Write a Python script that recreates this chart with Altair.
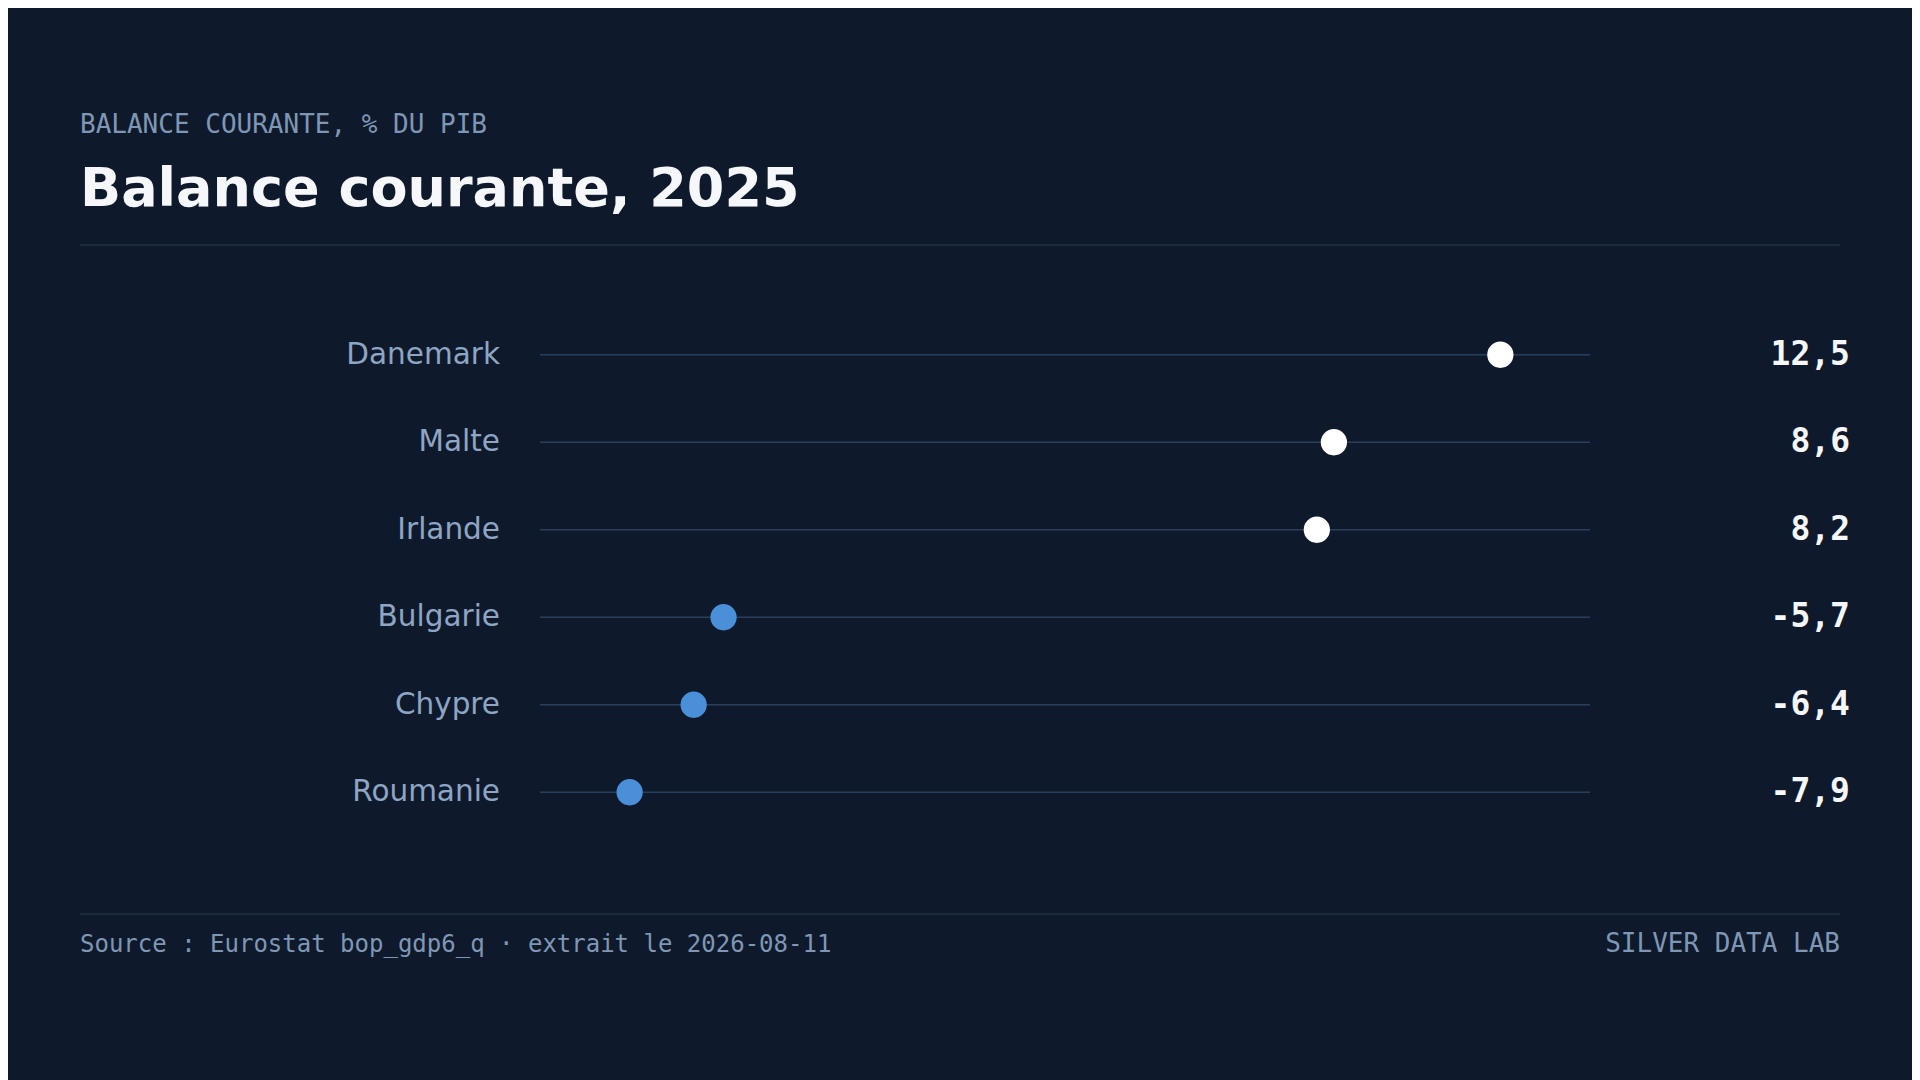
import altair as alt
import pandas as pd

countries = ["Danemark", "Malte", "Irlande", "Bulgarie", "Chypre", "Roumanie"]
values = [12.5, 8.6, 8.2, -5.7, -6.4, -7.9]

kicker = "BALANCE COURANTE, % DU PIB"
title_text = "Balance courante, 2025"
source_text = "Source : Eurostat bop_gdp6_q · extrait le 2026-08-11"
brand_text = "SILVER DATA LAB"

BG = "#0e1a2b"
W, H = 1050, 525

df = pd.DataFrame({"country": countries, "value": values})
one = pd.DataFrame({"k": [0]})

yscale = alt.Scale(type="point", padding=0.5, domain=countries)
xscale = alt.Scale(domain=[-10, 14.6], nice=False, zero=False)

base = alt.Chart(df)

rules = base.mark_rule(color="#283f5c", strokeWidth=1.6).encode(
    x=alt.value(0), x2=alt.value(W),
    y=alt.Y("country:N", scale=yscale, axis=None),
)

dots = base.mark_circle(size=690, opacity=1).encode(
    x=alt.X("value:Q", scale=xscale, axis=None),
    y=alt.Y("country:N", scale=yscale, axis=None),
    color=alt.condition("datum.value > 0", alt.value("#ffffff"), alt.value("#4a90d9")),
)

labels = base.mark_text(
    align="right", baseline="middle", font="DejaVu Sans", fontSize=29.5, color="#8ea5c4"
).encode(
    x=alt.value(-40),
    y=alt.Y("country:N", scale=yscale, axis=None),
    text="country:N",
)

vals = base.transform_calculate(
    label="replace(toString(datum.value), '.', ',')"
).mark_text(
    align="right", baseline="middle", font="DejaVu Sans Mono", fontSize=33,
    fontWeight="bold", color="#f5f7fa",
).encode(
    x=alt.value(1310),
    y=alt.Y("country:N", scale=yscale, axis=None),
    text="label:N",
)

def txt(s, x, y, **kw):
    d = pd.DataFrame({"t": [s]})
    return alt.Chart(d).mark_text(baseline="alphabetic", **kw).encode(
        x=alt.value(x), y=alt.value(y), text="t:N"
    )

kick = txt(kicker, -460, -178, align="left", font="DejaVu Sans Mono", fontSize=26,
           color="#7f97b5")
ttl = txt(title_text, -460, -105, align="left", font="DejaVu Sans", fontSize=54,
          fontWeight="bold", color="#f5f7fa")
src = txt(source_text, -460, 641, align="left", font="DejaVu Sans Mono", fontSize=24,
          color="#7f97b5")
brand = txt(brand_text, 1300, 641, align="right", font="DejaVu Sans Mono", fontSize=26,
            color="#7f97b5")

sep_top = alt.Chart(one).mark_rule(color="#1a2a3e", strokeWidth=2).encode(
    x=alt.value(-460), x2=alt.value(1300), y=alt.value(-66)
)
sep_bot = alt.Chart(one).mark_rule(color="#1a2a3e", strokeWidth=2).encode(
    x=alt.value(-460), x2=alt.value(1300), y=alt.value(603)
)

chart = alt.layer(
    sep_top, sep_bot, rules, dots, labels, vals, kick, ttl, src, brand
).properties(
    width=W, height=H, background=BG,
    padding={"left": 532, "top": 303, "right": 322, "bottom": 244},
    autosize=alt.AutoSizeParams(type="none"),
).configure_view(stroke=None)

chart.save("out.html", embed_options={"renderer": "svg", "actions": False})
